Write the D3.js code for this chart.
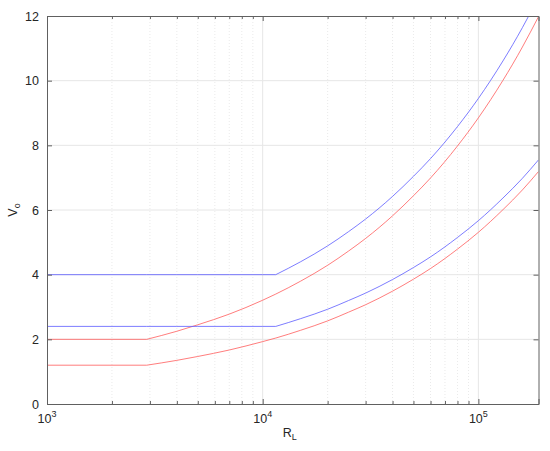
<!DOCTYPE html>
<html>
<head>
<meta charset="utf-8">
<script src="https://cdn.jsdelivr.net/npm/d3@7"></script>
<style>
body { margin: 0; background: #fff; }
text { font-family: "Liberation Sans", Arial, sans-serif; fill: #262626; }
</style>
</head>
<body>
<div id="chart"></div>
<script>
// load resistance RL (ohm), shared by all four curves
var rl = [1000, 2900, 4000, 5000, 7000, 10000, 11500, 15000, 20000, 25000, 30000,
          40000, 50000, 60000, 80000, 100000, 130000, 160000, 190000];
// output voltage Vo
var blueHigh = [4, 4, 4, 4, 4, 4, 4, 4.40, 4.89, 5.33, 5.72,
                6.42, 7.04, 7.59, 8.58, 9.45, 10.61, 11.64, 12.58];
var redHigh = [2, 2, 2.25, 2.45, 2.78, 3.21, 3.40, 3.80, 4.29, 4.73, 5.12,
               5.82, 6.44, 6.99, 7.98, 8.85, 10.01, 11.04, 11.98];
var blueLow = [2.4, 2.4, 2.4, 2.4, 2.4, 2.4, 2.4, 2.64, 2.93, 3.20, 3.43,
               3.85, 4.22, 4.55, 5.15, 5.67, 6.37, 6.98, 7.55];
var redLow = [1.2, 1.2, 1.35, 1.47, 1.67, 1.93, 2.04, 2.28, 2.57, 2.84, 3.07,
              3.49, 3.86, 4.19, 4.79, 5.31, 6.01, 6.62, 7.19];
var yTicks = [0, 2, 4, 6, 8, 10, 12];
var xTicks = [1000, 10000, 100000];

var margin = {top: 16, right: 11.5, bottom: 47, left: 47};
var width = 550 - margin.left - margin.right;
var height = 451 - margin.top - margin.bottom;

var svg = d3.select("#chart")
  .append("svg")
  .attr("width", 550)
  .attr("height", 451)
  .append("g")
  .attr("transform", "translate(" + margin.left + "," + margin.top + ")");

var x = d3.scaleLog().domain([1000, 190000]).range([0, width]);
var y = d3.scaleLinear().domain([0, 12]).range([height, 0]);

// minor positions 2..9 x 10^n inside the domain
var minor = [];
[1000, 10000, 100000].forEach(function(base) {
  for (var k = 2; k <= 9; k++) {
    if (base * k < 190000) minor.push(base * k);
  }
});

// grid
svg.append("g").selectAll("line")
  .data(minor)
  .enter().append("line")
  .attr("x1", function(d) { return x(d); })
  .attr("x2", function(d) { return x(d); })
  .attr("y1", 0).attr("y2", height)
  .attr("stroke", "#dcdcdc")
  .attr("stroke-width", 0.6)
  .style("stroke-dasharray", "1,2");

svg.append("g").selectAll("line")
  .data(xTicks.slice(1))
  .enter().append("line")
  .attr("x1", function(d) { return x(d); })
  .attr("x2", function(d) { return x(d); })
  .attr("y1", 0).attr("y2", height)
  .attr("stroke", "#e6e6e6");

svg.append("g").selectAll("line")
  .data(yTicks.slice(1, -1))
  .enter().append("line")
  .attr("x1", 0).attr("x2", width)
  .attr("y1", function(d) { return y(d); })
  .attr("y2", function(d) { return y(d); })
  .attr("stroke", "#e6e6e6");

// curves: flat part straight, rising part smoothed, so the knee stays sharp
svg.append("clipPath").attr("id", "plotclip")
  .append("rect").attr("width", width).attr("height", height);

var flatLine = d3.line()
  .x(function(d) { return x(d[0]); })
  .y(function(d) { return y(d[1]); });
var riseLine = d3.line()
  .curve(d3.curveMonotoneX)
  .x(function(d) { return x(d[0]); })
  .y(function(d) { return y(d[1]); });

var series = [
  {vals: blueHigh, color: "#5c5cff"},
  {vals: redHigh, color: "#ff5c5c"},
  {vals: blueLow, color: "#5c5cff"},
  {vals: redLow, color: "#ff5c5c"}
];

var curves = svg.append("g").attr("clip-path", "url(#plotclip)");
series.forEach(function(s) {
  var pts = rl.map(function(r, i) { return [r, s.vals[i]]; });
  var knee = 0;
  while (knee + 1 < pts.length && pts[knee + 1][1] === pts[0][1]) knee++;
  curves.append("path")
    .attr("d", flatLine(pts.slice(0, knee + 1)) + riseLine(pts.slice(knee)).replace(/^M/, "L"))
    .attr("fill", "none")
    .attr("stroke", s.color)
    .attr("stroke-width", 0.8);
});

// axes, ticks pointing inward like the original
var axisColor = "#606060";

var yLeft = svg.append("g")
  .call(d3.axisLeft(y).tickValues(yTicks).tickSize(-5).tickPadding(8));
svg.append("g")
  .attr("transform", "translate(" + width + ",0)")
  .call(d3.axisRight(y).tickValues(yTicks).tickSize(-5).tickFormat(""));

svg.append("g")
  .attr("transform", "translate(0," + height + ")")
  .call(d3.axisBottom(x).tickValues(xTicks).tickSize(-5).tickFormat(""));
svg.append("g")
  .call(d3.axisTop(x).tickValues(xTicks).tickSize(-5).tickFormat(""));

svg.append("g")
  .attr("transform", "translate(0," + height + ")")
  .call(d3.axisBottom(x).tickValues(minor).tickSize(-3).tickFormat(""))
  .select(".domain").remove();
svg.append("g")
  .call(d3.axisTop(x).tickValues(minor).tickSize(-3).tickFormat(""))
  .select(".domain").remove();

svg.selectAll(".domain").attr("stroke", axisColor);
svg.selectAll(".tick line").attr("stroke", axisColor);

yLeft.selectAll("text")
  .style("font-size", "12.5px")
  .style("font-family", "Liberation Sans, Arial, sans-serif")
  .attr("fill", "#262626");

// x tick labels 10^n
var xl = svg.append("g").selectAll("text")
  .data(xTicks)
  .enter().append("text")
  .attr("x", function(d) { return x(d); })
  .attr("y", height + 19)
  .attr("text-anchor", "middle")
  .style("font-size", "12.5px");
xl.append("tspan").text("10");
xl.append("tspan")
  .attr("dy", -6)
  .style("font-size", "9px")
  .text(function(d) { return Math.round(Math.log10(d)); });

// axis labels
var xlab = svg.append("text")
  .attr("x", width / 2 - 3)
  .attr("y", height + 33)
  .attr("text-anchor", "middle")
  .style("font-size", "12.5px");
xlab.append("tspan").text("R");
xlab.append("tspan").attr("dy", 3).style("font-size", "9px").text("L");

var ylab = svg.append("text")
  .attr("transform", "translate(-30," + (height / 2) + ") rotate(-90)")
  .attr("text-anchor", "middle")
  .style("font-size", "12.5px");
ylab.append("tspan").text("V");
ylab.append("tspan").attr("dy", 3).style("font-size", "9px").text("o");
</script>
</body>
</html>
